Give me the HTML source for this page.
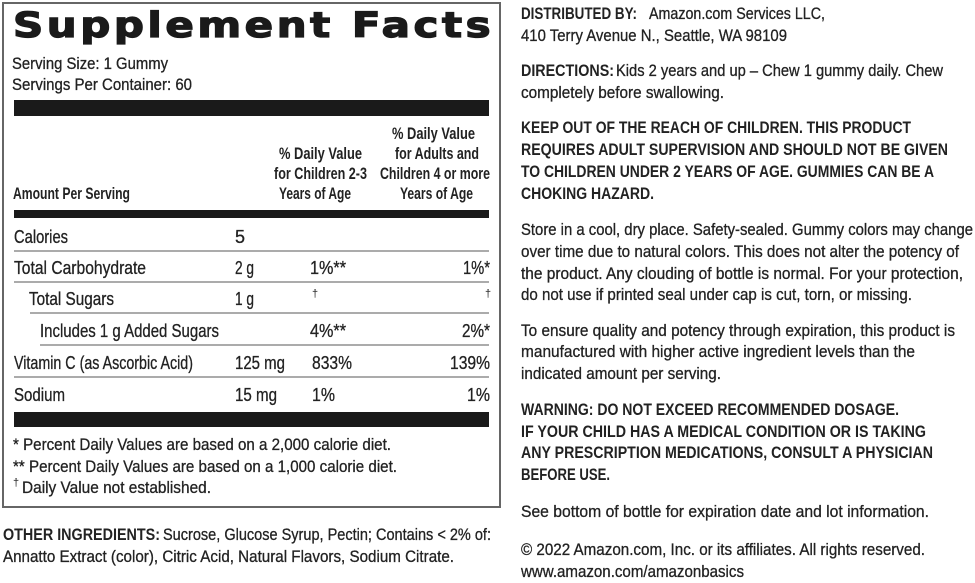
<!DOCTYPE html>
<html><head><meta charset="utf-8"><style>
html,body{margin:0;padding:0;background:#fff;}
svg{display:block;}
text{font-family:"Liberation Sans",sans-serif;fill:#222;}
.r{font-size:17px;stroke:#222;stroke-width:0.3px;}
.b{font-size:17px;font-weight:bold;}
.row{font-size:18.5px;stroke:#222;stroke-width:0.3px;}
</style></head><body>
<svg width="975" height="583" viewBox="0 0 975 583" xmlns="http://www.w3.org/2000/svg">
<rect width="975" height="583" fill="#fff"/>
<rect x="3" y="3" width="497" height="504" fill="none" stroke="#666" stroke-width="2"/>
<text transform="translate(13,37) scale(1.2,1)" x="0" y="0" textLength="398" lengthAdjust="spacing" style="font-family:'DejaVu Sans',sans-serif;font-size:35px;font-weight:bold;fill:#1a1a1a;stroke:#1a1a1a;stroke-width:1.3px">Supplement Facts</text>
<text class="r" x="12" y="69" textLength="156" lengthAdjust="spacingAndGlyphs">Serving Size: 1 Gummy</text>
<text class="r" x="12" y="90" textLength="180" lengthAdjust="spacingAndGlyphs">Servings Per Container: 60</text>
<rect x="14" y="100" width="475" height="16" fill="#1a1a1a"/>
<text class="b" x="13" y="199" textLength="117" lengthAdjust="spacingAndGlyphs">Amount Per Serving</text>
<text class="b" x="279" y="159" textLength="83" lengthAdjust="spacingAndGlyphs">% Daily Value</text>
<text class="b" x="274" y="179" textLength="93" lengthAdjust="spacingAndGlyphs">for Children 2-3</text>
<text class="b" x="279" y="199" textLength="72" lengthAdjust="spacingAndGlyphs">Years of Age</text>
<text class="b" x="392" y="139" textLength="83" lengthAdjust="spacingAndGlyphs">% Daily Value</text>
<text class="b" x="395" y="159" textLength="84" lengthAdjust="spacingAndGlyphs">for Adults and</text>
<text class="b" x="380" y="179" textLength="110" lengthAdjust="spacingAndGlyphs">Children 4 or more</text>
<text class="b" x="400" y="199" textLength="73" lengthAdjust="spacingAndGlyphs">Years of Age</text>
<rect x="14" y="210" width="475" height="8" fill="#1a1a1a"/>
<g stroke="#8f8f8f" stroke-width="1.5">
<line x1="14" y1="251" x2="489" y2="251"/>
<line x1="14" y1="282" x2="489" y2="282"/>
<line x1="30" y1="313" x2="489" y2="313"/>
<line x1="40" y1="345" x2="489" y2="345"/>
<line x1="14" y1="377" x2="489" y2="377"/>
</g>
<text class="row" x="14" y="243" textLength="54" lengthAdjust="spacingAndGlyphs">Calories</text>
<text class="row" x="235" y="243" textLength="10" lengthAdjust="spacingAndGlyphs">5</text>
<text class="row" x="14" y="274" textLength="132" lengthAdjust="spacingAndGlyphs">Total Carbohydrate</text>
<text class="row" x="235" y="274" textLength="19" lengthAdjust="spacingAndGlyphs">2 g</text>
<text class="row" x="310" y="274" textLength="36" lengthAdjust="spacingAndGlyphs">1%**</text>
<text class="row" x="463" y="274" textLength="27" lengthAdjust="spacingAndGlyphs">1%*</text>
<text class="row" x="29" y="305" textLength="85" lengthAdjust="spacingAndGlyphs">Total Sugars</text>
<text class="row" x="235" y="305" textLength="19" lengthAdjust="spacingAndGlyphs">1 g</text>
<text x="312" y="297" style="font-size:11px">†</text>
<text x="485" y="297" style="font-size:11px">†</text>
<text class="row" x="40" y="337" textLength="179" lengthAdjust="spacingAndGlyphs">Includes 1 g Added Sugars</text>
<text class="row" x="310" y="337" textLength="36" lengthAdjust="spacingAndGlyphs">4%**</text>
<text class="row" x="462" y="337" textLength="28" lengthAdjust="spacingAndGlyphs">2%*</text>
<text class="row" x="14" y="369" textLength="179" lengthAdjust="spacingAndGlyphs">Vitamin C (as Ascorbic Acid)</text>
<text class="row" x="235" y="369" textLength="50" lengthAdjust="spacingAndGlyphs">125 mg</text>
<text class="row" x="312" y="369" textLength="40" lengthAdjust="spacingAndGlyphs">833%</text>
<text class="row" x="450" y="369" textLength="40" lengthAdjust="spacingAndGlyphs">139%</text>
<text class="row" x="14" y="401" textLength="51" lengthAdjust="spacingAndGlyphs">Sodium</text>
<text class="row" x="235" y="401" textLength="42" lengthAdjust="spacingAndGlyphs">15 mg</text>
<text class="row" x="312" y="401" textLength="23" lengthAdjust="spacingAndGlyphs">1%</text>
<text class="row" x="467" y="401" textLength="23" lengthAdjust="spacingAndGlyphs">1%</text>
<rect x="14" y="412" width="475" height="15" fill="#1a1a1a"/>
<text class="r" x="13" y="450" textLength="378" lengthAdjust="spacingAndGlyphs">* Percent Daily Values are based on a 2,000 calorie diet.</text>
<text class="r" x="13" y="472" textLength="384" lengthAdjust="spacingAndGlyphs">** Percent Daily Values are based on a 1,000 calorie diet.</text>
<text x="13" y="486" style="font-size:11px">†</text>
<text class="r" x="22" y="493" textLength="189" lengthAdjust="spacingAndGlyphs">Daily Value not established.</text>
<text class="b" x="3" y="540" textLength="157" lengthAdjust="spacingAndGlyphs">OTHER INGREDIENTS:</text>
<text class="r" x="163" y="540" textLength="328" lengthAdjust="spacingAndGlyphs">Sucrose, Glucose Syrup, Pectin; Contains &lt; 2% of:</text>
<text class="r" x="3" y="562" textLength="451" lengthAdjust="spacingAndGlyphs">Annatto Extract (color), Citric Acid, Natural Flavors, Sodium Citrate.</text>

<text class="b" x="521" y="19" textLength="116" lengthAdjust="spacingAndGlyphs">DISTRIBUTED BY:</text>
<text class="r" x="649" y="19" textLength="176" lengthAdjust="spacingAndGlyphs">Amazon.com Services LLC,</text>
<text class="r" x="521" y="41" textLength="266" lengthAdjust="spacingAndGlyphs">410 Terry Avenue N., Seattle, WA 98109</text>
<text class="b" x="521" y="76" textLength="93" lengthAdjust="spacingAndGlyphs">DIRECTIONS:</text>
<text class="r" x="616" y="76" textLength="327" lengthAdjust="spacingAndGlyphs">Kids 2 years and up – Chew 1 gummy daily. Chew</text>
<text class="r" x="521" y="98" textLength="203" lengthAdjust="spacingAndGlyphs">completely before swallowing.</text>
<text class="b" x="521" y="133" textLength="390" lengthAdjust="spacingAndGlyphs">KEEP OUT OF THE REACH OF CHILDREN. THIS PRODUCT</text>
<text class="b" x="521" y="155" textLength="427" lengthAdjust="spacingAndGlyphs">REQUIRES ADULT SUPERVISION AND SHOULD NOT BE GIVEN</text>
<text class="b" x="521" y="177" textLength="413" lengthAdjust="spacingAndGlyphs">TO CHILDREN UNDER 2 YEARS OF AGE. GUMMIES CAN BE A</text>
<text class="b" x="521" y="199" textLength="133" lengthAdjust="spacingAndGlyphs">CHOKING HAZARD.</text>
<text class="r" x="521" y="235" textLength="452" lengthAdjust="spacingAndGlyphs">Store in a cool, dry place. Safety-sealed. Gummy colors may change</text>
<text class="r" x="521" y="257" textLength="438" lengthAdjust="spacingAndGlyphs">over time due to natural colors. This does not alter the potency of</text>
<text class="r" x="521" y="279" textLength="442" lengthAdjust="spacingAndGlyphs">the product. Any clouding of bottle is normal. For your protection,</text>
<text class="r" x="521" y="300" textLength="391" lengthAdjust="spacingAndGlyphs">do not use if printed seal under cap is cut, torn, or missing.</text>
<text class="r" x="521" y="336" textLength="434" lengthAdjust="spacingAndGlyphs">To ensure quality and potency through expiration, this product is</text>
<text class="r" x="521" y="357" textLength="394" lengthAdjust="spacingAndGlyphs">manufactured with higher active ingredient levels than the</text>
<text class="r" x="521" y="379" textLength="200" lengthAdjust="spacingAndGlyphs">indicated amount per serving.</text>
<text class="b" x="521" y="415" textLength="378" lengthAdjust="spacingAndGlyphs">WARNING:  DO NOT EXCEED RECOMMENDED DOSAGE.</text>
<text class="b" x="521" y="437" textLength="405" lengthAdjust="spacingAndGlyphs">IF YOUR CHILD HAS A MEDICAL CONDITION OR IS TAKING</text>
<text class="b" x="521" y="458" textLength="412" lengthAdjust="spacingAndGlyphs">ANY PRESCRIPTION MEDICATIONS, CONSULT A PHYSICIAN</text>
<text class="b" x="521" y="480" textLength="89" lengthAdjust="spacingAndGlyphs">BEFORE USE.</text>
<text class="r" x="521" y="517" textLength="408" lengthAdjust="spacingAndGlyphs">See bottom of bottle for expiration date and lot information.</text>
<text class="r" x="521" y="555" textLength="404" lengthAdjust="spacingAndGlyphs">© 2022 Amazon.com, Inc. or its affiliates. All rights reserved.</text>
<text class="r" x="521" y="577" textLength="223" lengthAdjust="spacingAndGlyphs">www.amazon.com/amazonbasics</text>
</svg>
</body></html>
